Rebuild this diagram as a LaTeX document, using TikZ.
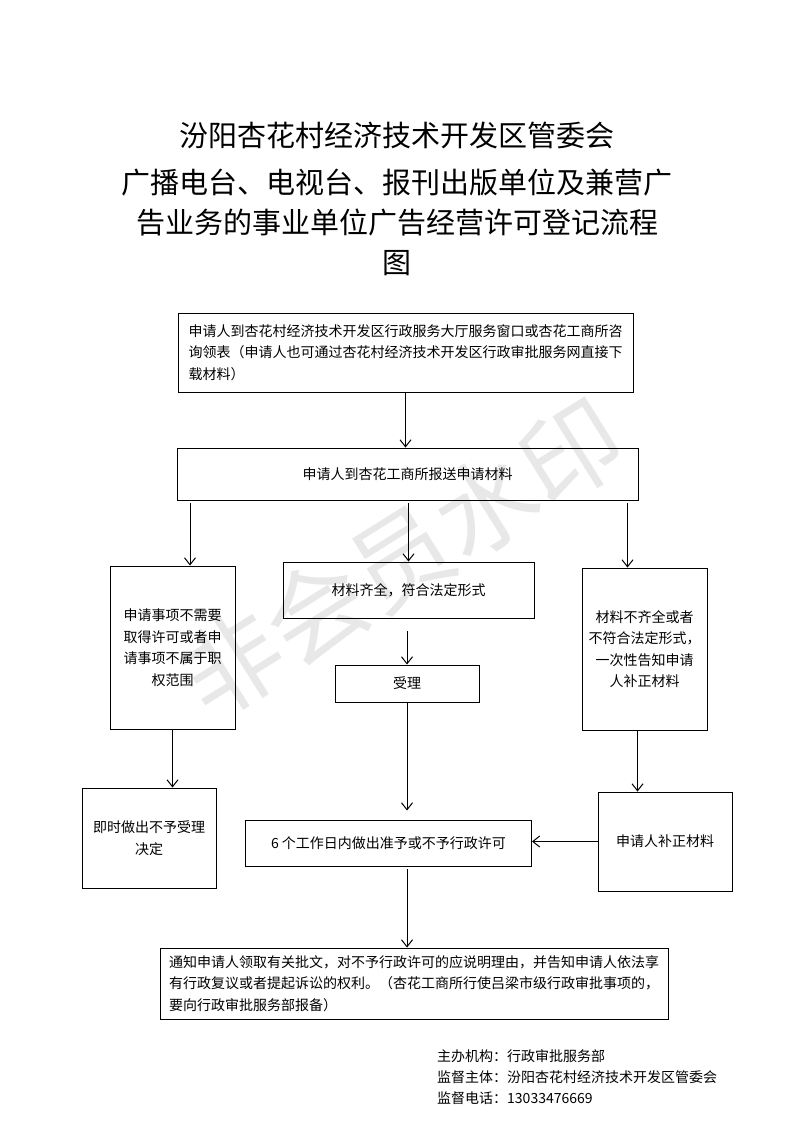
\documentclass[tikz,border=0pt]{standalone}
\usepackage{fontspec}
\setmainfont{Noto Sans CJK SC}
\usetikzlibrary{arrows.meta}

\begin{document}
\begin{tikzpicture}[
    x=1pt, y=-1pt,
    >={Straight Barb[length=7pt,width=11pt]},
    box/.style={draw, line width=0.9pt, inner sep=0pt, font=\fontsize{14}{21.5}\selectfont},
    arr/.style={->, line width=1pt},
    ttl/.style={font=\fontsize{29}{40}\selectfont, align=center}
]
    \useasboundingbox (0,0) rectangle (793,1122);
    % watermark
    \node[text=black!9, font=\fontsize{100}{100}\selectfont, rotate=32] (mark) at (401,558) {非会员水印};
    \node[ttl] (title) at (397,135) {汾阳杏花村经济技术开发区管委会};
    \node[ttl] (subtitle) at (397,222) {广播电台、电视台、报刊出版单位及兼营广\\告业务的事业单位广告经营许可登记流程\\图};

    \node[box, minimum width=455pt, minimum height=79pt, align=left] (ask) at (405.5,352.5) {申请人到杏花村经济技术开发区行政服务大厅服务窗口或杏花工商所咨\\询领表（申请人也可通过杏花村经济技术开发区行政审批服务网直接下\\载材料）};
    \node[box, minimum width=461pt, minimum height=52pt] (submit) at (407.5,474) {申请人到杏花工商所报送申请材料};
    \node[box, minimum width=125pt, minimum height=163pt, align=center] (noneed) at (172.5,647.5) {申请事项不需要\\取得许可或者申\\请事项不属于职\\权范围};
    \node[box, minimum width=251pt, minimum height=56pt] (complete) at (408.5,590) {材料齐全，符合法定形式};
    \node[box, minimum width=144pt, minimum height=37pt] (accept) at (407,683.5) {受理};
    \node[box, minimum width=125pt, minimum height=162pt, align=center] (lack) at (644.5,649) {材料不齐全或者\\不符合法定形式，\\一次性告知申请\\人补正材料};
    \node[box, minimum width=134pt, minimum height=100pt, align=center] (refuse) at (149,838) {即时做出不予受理\\决定};
    \node[box, minimum width=286pt, minimum height=46pt] (decide) at (388.5,843) {6 个工作日内做出准予或不予行政许可};
    \node[box, minimum width=134pt, minimum height=99pt] (amend) at (665,841.5) {申请人补正材料};
    \node[box, minimum width=508pt, minimum height=71pt, align=left] (notify) at (414,983.5) {通知申请人领取有关批文，对不予行政许可的应说明理由，并告知申请人依法享\\有行政复议或者提起诉讼的权利。（杏花工商所行使吕梁市级行政审批事项的，\\要向行政审批服务部报备）};
    \node[font=\fontsize{14}{21}\selectfont, align=left, anchor=west, inner sep=0pt] (footer) at (437,1077) {主办机构：行政审批服务部\\监督主体：汾阳杏花村经济技术开发区管委会\\监督电话：13033476669};

    \draw[arr] (ask.south) -- (ask.south |- submit.north);
    \draw[arr, shorten <=3pt] ([xshift=17.5pt]noneed.north |- submit.south) -- ([xshift=17.5pt]noneed.north);
    \draw[arr, shorten <=3pt] (complete.north |- submit.south) -- (complete.north);
    \draw[arr, shorten <=3pt] ([xshift=-17pt]lack.north |- submit.south) -- ([xshift=-17pt]lack.north);
    \draw[arr, shorten <=13pt] (complete.south -| accept.north) -- (accept.north);
    \draw[arr, shorten >=9pt] (accept.south) -- (accept.south |- decide.north);
    \draw[arr] (noneed.south) -- (noneed.south |- refuse.north);
    \draw[arr] ([xshift=-7pt]lack.south) -- ([xshift=-7pt]lack.south |- amend.north);
    \draw[arr] (amend.west) -- (amend.west -| decide.east);
    \draw[arr, shorten <=3pt] ([xshift=18.5pt]decide.south) -- ([xshift=18.5pt]decide.south |- notify.north);
\end{tikzpicture}
\end{document}
